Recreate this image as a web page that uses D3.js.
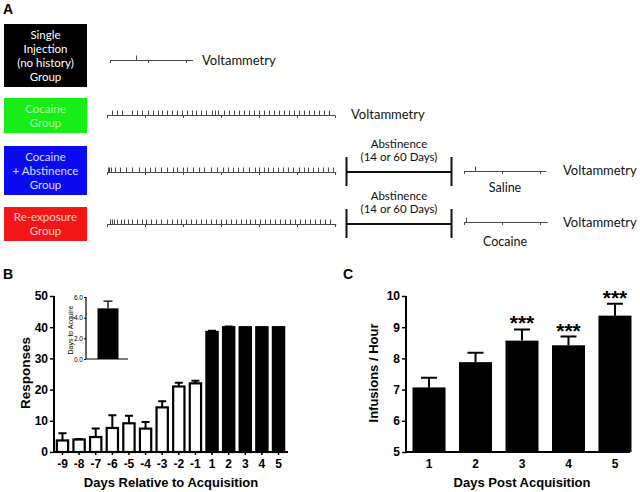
<!DOCTYPE html>
<html><head><meta charset="utf-8">
<script src="https://cdn.jsdelivr.net/npm/d3@7"></script>
<style>body{margin:0;background:#fff}svg{display:block}</style>
</head><body>
<svg id="chart" width="640" height="492"></svg>
<script>
// ---------- Panel A data ----------
const groupNames = [["Single","Injection","(no history)","Group"],["Cocaine","Group"],["Cocaine","+ Abstinence","Group"],["Re-exposure","Group"]];
const groupFill = ["#000000","#16ee16","#0b0bf2","#f31616"];
const groupTextColor = ["#ffffff","#b4ffb4","#dcdcff","#ffd2d2"];
const singleInjection = [41];
const cocaineInfusions = [8,16,24,39,47,56,64,72,80,87,95,103,110,118,126,134,141,149,157,165,170,176,184,192,200,208,216,224,232,240,248,256,263,271,279,287,295,303,311,319,327,335,343,351];
const abstinenceInfusions = [1,3,7,13,21,30,39,51,60,68,76,86,94,104,111,120,126,136,145,153,164,173,183,191,199,207,215,224,234,240,248,254,262,270,278,286,294,303,311,317,325,333,341,349,357];
const reexposureInfusions = [5,8,11,15,22,27,33,40,47,55,62,70,78,86,94,102,110,117,125,133,141,149,156,164,172,180,188,195,203,211,219,226,234,242,250,258,265,273,281,289,297,304,312,320,328,336,344,352];
const salineChallenge = [17];
const cocaineChallenge = [3];
const hourMarks = [0,60,120,180,240,300,360];
const abstinenceLabel = ["Abstinence","(14 or 60 Days)"];
const challengeLabels = ["Saline","Cocaine"];
const voltLabel = "Voltammetry";

// ---------- Panel B data ----------
const daysB = ["-9","-8","-7","-6","-5","-4","-3","-2","-1","1","2","3","4","5"];
const responses = [3.7,4.0,4.8,7.7,9.2,7.5,14.3,21.0,22.0,38.5,40.0,40.0,40.0,40.0];
const responsesErr = [2.3,0.2,2.7,4.1,2.4,2.1,2.0,1.2,0.8,0.4,0.2,0,0,0];
const ticksB = [0,10,20,30,40,50];
const insetValue = [4.9];
const insetErr = [0.7];
const insetTicks = [0,2,4,6];

// ---------- Panel C data ----------
const daysC = ["1","2","3","4","5"];
const infusions = [7.07,7.88,8.57,8.42,9.37];
const infusionsErr = [0.31,0.30,0.36,0.28,0.38];
const signif = ["","","***","***","***"];
const ticksC = [5,6,7,8,9,10];

const svg = d3.select("#chart");
const calib = "Lato, 'Open Sans', sans-serif";
const arial = "'Liberation Sans', Arial, sans-serif";

// panel letters
[["A",3,14],["B",3,279],["C",343,279]].forEach(([t,x,y])=>{
  svg.append("text").attr("x",x).attr("y",y).text(t)
    .attr("font-family",arial).attr("font-weight","bold").attr("font-size",14);
});

// ---------- Panel A ----------
const boxes = [{y:24,h:63},{y:98,h:35},{y:146,h:49},{y:207,h:34}];
boxes.forEach((b,i)=>{
  svg.append("rect").attr("x",4).attr("y",b.y).attr("width",83).attr("height",b.h).attr("fill",groupFill[i]);
  const n = groupNames[i].length, lh = 14;
  const cy = b.y + b.h/2;
  groupNames[i].forEach((ln,j)=>{
    svg.append("text").attr("x",45.5).attr("y",cy + (j-(n-1)/2)*lh + 4)
      .attr("text-anchor","middle").attr("font-family",calib).attr("font-size",11.5)
      .attr("fill",groupTextColor[i]).text(ln);
  });
});

const minScale = d3.scaleLinear().domain([0,60]).range([0,38]);
function timeline(x0, y, len, events){
  const g = svg.append("g").attr("transform",`translate(${x0},${y})`).attr("stroke","#4a4a4a").attr("stroke-width",1);
  g.append("line").attr("x1",0).attr("x2",minScale(len)).attr("y1",0).attr("y2",0);
  g.selectAll(".h").data(hourMarks.filter(h=>h<=len)).join("line")
    .attr("x1",d=>minScale(d)+0.5).attr("x2",d=>minScale(d)+0.5).attr("y1",0).attr("y2",2.5);
  g.selectAll(".e").data(events).join("line")
    .attr("x1",d=>Math.round(minScale(d))+0.5).attr("x2",d=>Math.round(minScale(d))+0.5).attr("y1",0).attr("y2",-5);
}
timeline(110,60.5,131,singleInjection);
timeline(107,115.5,360,cocaineInfusions);
timeline(107,172.5,362,abstinenceInfusions);
timeline(107,224.5,362,reexposureInfusions);
timeline(464,171.5,130,salineChallenge);
timeline(464,222.5,132,cocaineChallenge);

function vtxt(x,y){
  svg.append("text").attr("x",x).attr("y",y).attr("font-family",calib).attr("font-size",13).attr("fill","#111").text(voltLabel);
}
vtxt(202,65); vtxt(351,119); vtxt(563,175); vtxt(563,227);

// abstinence brackets
[{y:172,top:157,bot:186,ly:148},{y:224,top:209,bot:238,ly:200}].forEach(a=>{
  const g = svg.append("g").attr("stroke","#111").attr("stroke-width",2);
  g.append("line").attr("x1",346.5).attr("x2",451.5).attr("y1",a.y).attr("y2",a.y);
  g.append("line").attr("x1",346.5).attr("x2",346.5).attr("y1",a.top).attr("y2",a.bot);
  g.append("line").attr("x1",451.5).attr("x2",451.5).attr("y1",a.top).attr("y2",a.bot);
  abstinenceLabel.forEach((t,j)=>{
    svg.append("text").attr("x",399).attr("y",a.ly + j*13).attr("text-anchor","middle")
      .attr("font-family",calib).attr("font-size",11.5).attr("fill","#111").text(t);
  });
});
challengeLabels.forEach((t,i)=>{
  svg.append("text").attr("x",505).attr("y",[192,246][i]).attr("text-anchor","middle")
    .attr("font-family",calib).attr("font-size",12.5).attr("fill","#111").text(t);
});

// ---------- Panel B ----------
const xB = d3.scaleBand().domain(daysB).range([55,286]).paddingInner(0.2).paddingOuter(0.05);
const yB = d3.scaleLinear().domain([0,50]).range([452,296]);
const gB = svg.append("g");
gB.selectAll(".bar").data(daysB).join("rect")
  .attr("x",d=>xB(d)+1).attr("width",xB.bandwidth()-2)
  .attr("y",(d,i)=>yB(responses[i])).attr("height",(d,i)=>yB(0)-yB(responses[i]))
  .attr("fill",(d,i)=>i<9?"#fff":"#000").attr("stroke","#000").attr("stroke-width",2.2);
gB.selectAll(".err").data(daysB).join("path")
  .attr("d",(d,i)=>{const cx=xB(d)+xB.bandwidth()/2, y0=yB(responses[i]), y1=yB(responses[i]+responsesErr[i]);
    return responsesErr[i]>0.05?`M${cx},${y0}V${y1}M${cx-4},${y1}H${cx+4}`:"";})
  .attr("stroke","#000").attr("stroke-width",2).attr("fill","none");
const axBy = gB.append("g").attr("transform","translate(54,0)")
  .call(d3.axisLeft(yB).tickValues(ticksB).tickSize(4).tickSizeOuter(0));
const axBx = gB.append("g").attr("transform","translate(0,452)")
  .call(d3.axisBottom(xB).tickSize(3).tickSizeOuter(0));
[axBy,axBx].forEach(a=>{
  a.select(".domain").attr("stroke-width",2);
  a.selectAll(".tick line").attr("stroke-width",1.5);
  a.selectAll("text").attr("font-family",arial).attr("font-weight","bold").attr("font-size",12).attr("fill","#000");
});
axBx.select(".domain").attr("d","M53,0H288");
axBy.select(".domain").attr("d","M0,296V453");
axBy.selectAll("text").attr("x",-6);
axBx.selectAll("text").attr("y",7);
svg.append("text").attr("x",171).attr("y",487).attr("text-anchor","middle")
  .attr("font-family",arial).attr("font-weight","bold").attr("font-size",13).text("Days Relative to Acquisition");
svg.append("text").attr("transform","translate(30,373) rotate(-90)").attr("text-anchor","middle")
  .attr("font-family",arial).attr("font-weight","bold").attr("font-size",13.5).text("Responses");

// inset
const yI = d3.scaleLinear().domain([0,6]).range([359,297]);
const gI = svg.append("g");
gI.append("rect").attr("x",97.5).attr("y",yI(insetValue[0])).attr("width",21).attr("height",yI(0)-yI(insetValue[0])).attr("fill","#000");
gI.append("path").attr("d",`M108,${yI(insetValue[0])}V${yI(insetValue[0]+insetErr[0])}M103.5,${yI(insetValue[0]+insetErr[0])}H112.5`)
  .attr("stroke","#000").attr("stroke-width",1.3);
const axI = gI.append("g").attr("transform","translate(86,0)").call(d3.axisLeft(yI).tickValues(insetTicks).tickSize(2).tickSizeOuter(0));
axI.select(".domain").attr("d","M0,297V359H42").attr("stroke-width",1.2);
axI.selectAll("text").attr("font-family",arial).attr("font-size",6.5).attr("x",-3);
svg.append("text").attr("transform","translate(73,330) rotate(-90)").attr("text-anchor","middle")
  .attr("font-family",arial).attr("font-size",7).text("Days to Acquire");

// ---------- Panel C ----------
const xC = d3.scaleBand().domain(daysC).range([406,638]).paddingInner(0.29).paddingOuter(0.14);
const yC = d3.scaleLinear().domain([5,10]).range([452,296]);
const gC = svg.append("g");
gC.selectAll(".bar").data(daysC).join("rect")
  .attr("x",d=>xC(d)).attr("width",xC.bandwidth())
  .attr("y",(d,i)=>yC(infusions[i])).attr("height",(d,i)=>yC(5)-yC(infusions[i])).attr("fill","#000");
gC.selectAll(".err").data(daysC).join("path")
  .attr("d",(d,i)=>{const cx=xC(d)+xC.bandwidth()/2, y0=yC(infusions[i]), y1=yC(infusions[i]+infusionsErr[i]);
    return `M${cx},${y0}V${y1}M${cx-8},${y1}H${cx+8}`;})
  .attr("stroke","#000").attr("stroke-width",2).attr("fill","none");
gC.selectAll(".sig").data(daysC).join("text")
  .attr("x",d=>xC(d)+xC.bandwidth()/2).attr("y",(d,i)=>yC(infusions[i]+infusionsErr[i])+1)
  .attr("text-anchor","middle").attr("font-family",arial).attr("font-weight","bold").attr("font-size",21)
  .text((d,i)=>signif[i]);
const axCy = gC.append("g").attr("transform","translate(406,0)")
  .call(d3.axisLeft(yC).tickValues(ticksC).tickFormat(d3.format("d")).tickSize(4).tickSizeOuter(0));
const axCx = gC.append("g").attr("transform","translate(0,452)")
  .call(d3.axisBottom(xC).tickSize(0).tickSizeOuter(0));
[axCy,axCx].forEach(a=>{
  a.select(".domain").attr("stroke-width",2);
  a.selectAll(".tick line").attr("stroke-width",1.5);
  a.selectAll("text").attr("font-family",arial).attr("font-weight","bold").attr("font-size",12).attr("fill","#000");
});
axCx.select(".domain").attr("d","M405,0H630");
axCy.select(".domain").attr("d","M0,296V453");
axCy.selectAll("text").attr("x",-6);
axCx.selectAll("text").attr("y",7);
svg.append("text").attr("x",522).attr("y",487).attr("text-anchor","middle")
  .attr("font-family",arial).attr("font-weight","bold").attr("font-size",13).text("Days Post Acquisition");
svg.append("text").attr("transform","translate(378,373) rotate(-90)").attr("text-anchor","middle")
  .attr("font-family",arial).attr("font-weight","bold").attr("font-size",13).text("Infusions / Hour");
</script>
</body></html>
